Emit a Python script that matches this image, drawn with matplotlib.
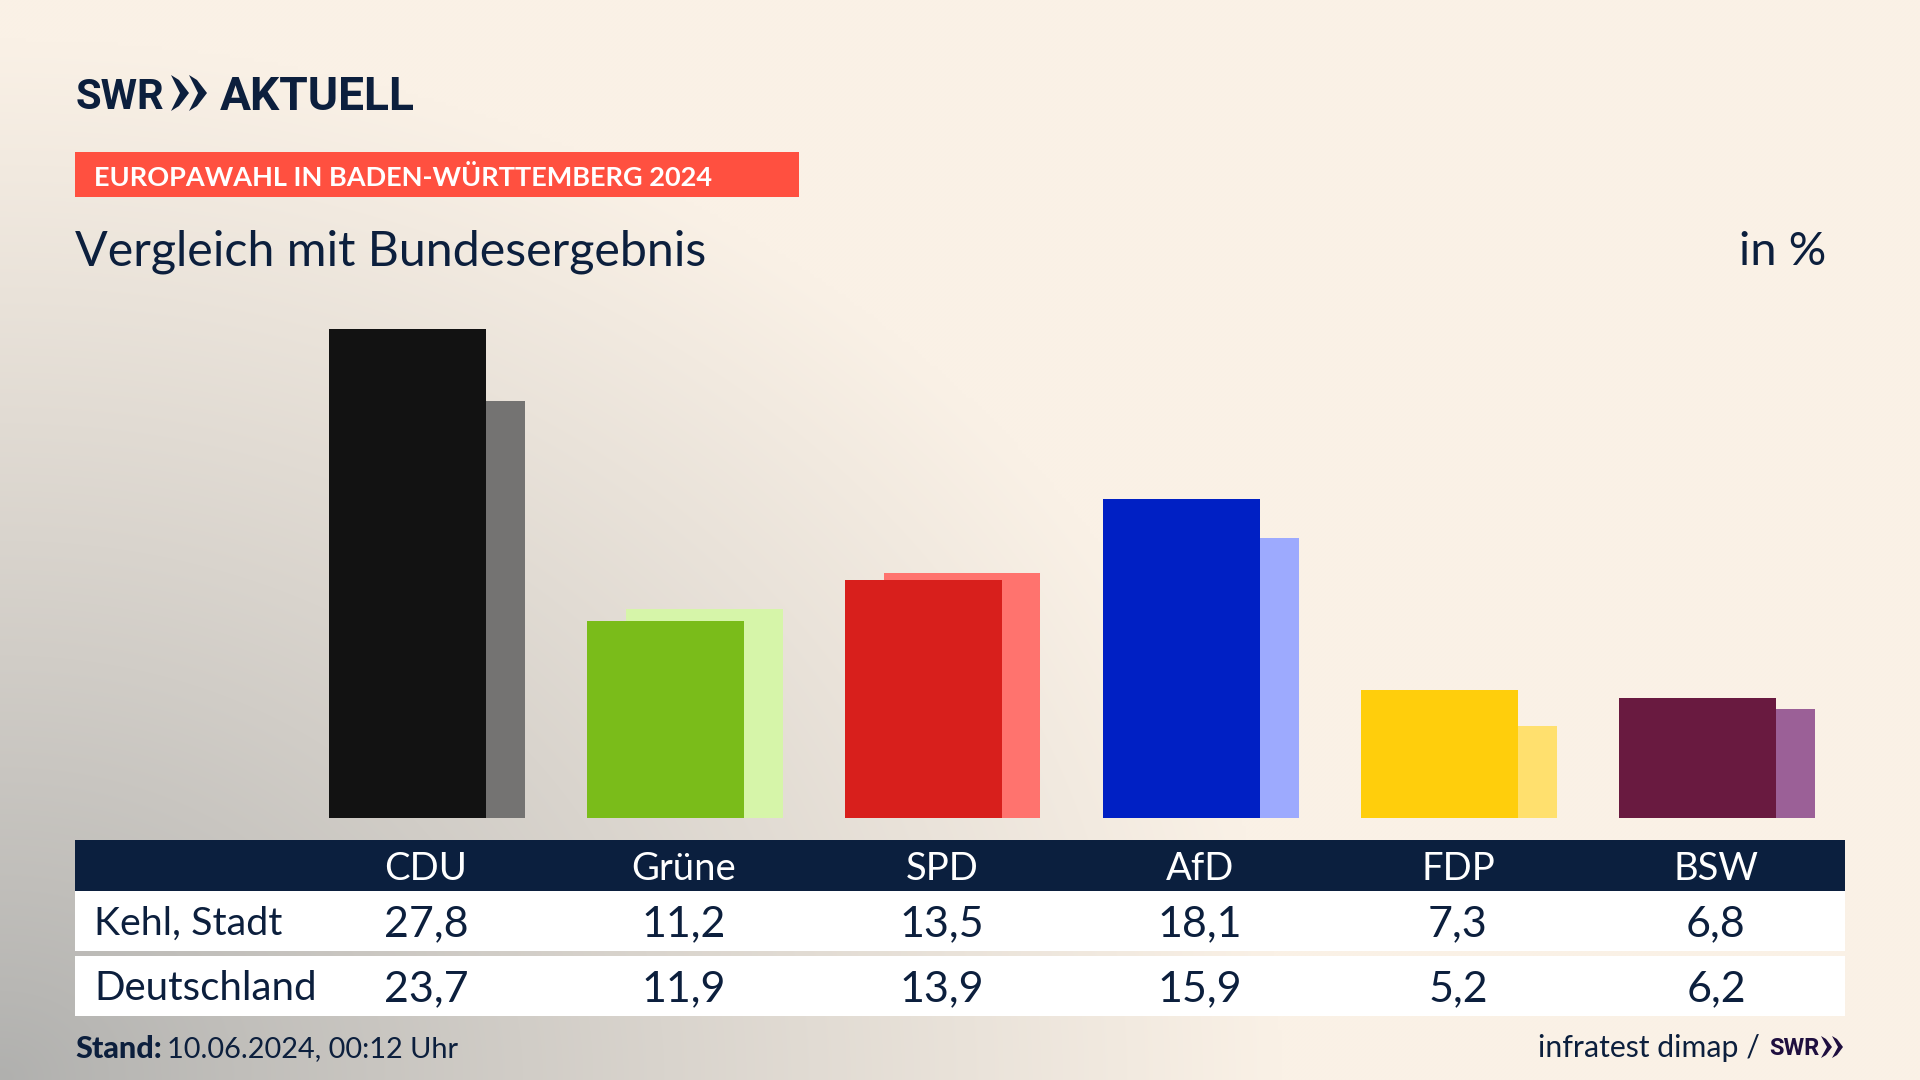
import numpy as np
import matplotlib
matplotlib.use("Agg")
import matplotlib.pyplot as plt
from matplotlib.patches import Rectangle, Polygon
from matplotlib import font_manager as fm

# ---- data ----
parties = ["CDU", "Grüne", "SPD", "AfD", "FDP", "BSW"]
kehl = [27.8, 11.2, 13.5, 18.1, 7.3, 6.8]
deutschland = [23.7, 11.9, 13.9, 15.9, 5.2, 6.2]
row_names = ["Kehl, Stadt", "Deutschland"]
dark_colors = ["#121212", "#7ABC1A", "#D81F1C", "#0020C4", "#FFCE0C", "#691A40"]
light_colors = ["#747372", "#D6F5A9", "#FF736E", "#9DAAFE", "#FFE06E", "#9B6097"]

NAVY = "#0C1F3D"
plt.rcParams["font.family"] = ["Lato", "DejaVu Sans"]
names = {f.name for f in fm.fontManager.ttflist}
LOGO = "Liberation Sans Narrow" if "Liberation Sans Narrow" in names else "Roboto"

W, H = 1920, 1080
fig = plt.figure(figsize=(W / 100, H / 100), dpi=100)

bg = fig.add_axes([0, 0, 1, 1])
bg.set_xlim(0, W)
bg.set_ylim(H, 0)
bg.axis("off")

# background glow from the lower left corner
yy, xx = np.mgrid[0:H:270j, 0:W:480j]
d = np.sqrt((xx / 1280.0) ** 2 + ((H - yy) / 1040.0) ** 2)
t = np.clip(d, 0, 1) ** 0.9
c0 = np.array([176, 176, 174]) / 255
c1 = np.array([250, 241, 230]) / 255
img = c0[None, None, :] * (1 - t[..., None]) + c1[None, None, :] * t[..., None]
bg.imshow(img, extent=(0, W, H, 0), aspect="auto", zorder=0, interpolation="bilinear")
bg.set_xlim(0, W)
bg.set_ylim(H, 0)

# header
bg.text(76, 93, "SWR", fontsize=30, family=LOGO, fontweight="bold", color=NAVY, va="center_baseline", ha="left")
for x0 in (171, 189):
    bg.add_patch(Polygon([(x0, 75), (x0 + 8, 80), (x0 + 18, 93), (x0 + 8, 106), (x0, 111), (x0 + 9, 93)],
                         closed=True, fc=NAVY, ec="none", zorder=3))
bg.text(220, 93, "AKTUELL", fontsize=33.2, family=LOGO, fontweight="bold", color=NAVY, va="center_baseline", ha="left")

bg.add_patch(Rectangle((75, 152), 724, 45, fc="#FF5040", ec="none", zorder=2))
bg.text(94, 175, "EUROPAWAHL IN BADEN-WÜRTTEMBERG 2024", fontsize=19.5, fontweight="bold",
        color="white", va="center_baseline", ha="left", zorder=3)
bg.text(75, 248, "Vergleich mit Bundesergebnis", fontsize=34.8, color=NAVY, va="center_baseline", ha="left")
bg.text(1826, 248, "in %", fontsize=33.8, color=NAVY, va="center_baseline", ha="right")

# bars: value axis
PX_PER_UNIT = 17.6
STEP = 258.0
BASE_PX = 818.0
ax = fig.add_axes([0, (H - BASE_PX) / H, 1, 30 * PX_PER_UNIT / H])
ax.patch.set_alpha(0)
ax.set_xlim(-407.3 / STEP, (W - 407.3) / STEP)
ax.set_ylim(0, 30)
ax.axis("off")
pos = np.arange(len(parties))
ax.bar(pos + 39 / STEP, deutschland, width=156.4 / STEP, color=light_colors, linewidth=0, zorder=2)
ax.bar(pos, kehl, width=156.4 / STEP, color=dark_colors, linewidth=0, zorder=3)

# table
bg.add_patch(Rectangle((75, 840), 1770, 51, fc="#0B1F3E", ec="none", zorder=2))
bg.add_patch(Rectangle((75, 891), 1770, 60, fc="white", ec="none", zorder=2))
bg.add_patch(Rectangle((75, 956), 1770, 60, fc="white", ec="none", zorder=2))
cols = 426 + STEP * pos
for cx, name, a, b in zip(cols, parties, kehl, deutschland):
    bg.text(cx, 865, name, fontsize=27.5, color="white", ha="center", va="center_baseline", zorder=3)
    bg.text(cx, 921, f"{a:.1f}".replace(".", ","), fontsize=31, color=NAVY, ha="center", va="center_baseline", zorder=3)
    bg.text(cx, 986, f"{b:.1f}".replace(".", ","), fontsize=31, color=NAVY, ha="center", va="center_baseline", zorder=3)
bg.text(94, 920, row_names[0], fontsize=28.4, color=NAVY, ha="left", va="center_baseline", zorder=3)
bg.text(94, 985, row_names[1], fontsize=29, color=NAVY, ha="left", va="center_baseline", zorder=3)

# footer
bg.text(75, 1047, "Stand:", fontsize=22, fontweight="black", color=NAVY, ha="left", va="center_baseline")
bg.text(167, 1047, "10.06.2024, 00:12 Uhr", fontsize=20.8, color=NAVY, ha="left", va="center_baseline")
bg.text(1760, 1046, "infratest dimap /", fontsize=21.8, color=NAVY, ha="right", va="center_baseline")
PURPLE = "#1F0F3F"
bg.text(1769, 1046, "SWR", fontsize=17, family=LOGO, fontweight="bold", color=PURPLE, ha="left", va="center_baseline")
for x0 in (1821, 1832):
    bg.add_patch(Polygon([(x0, 1036), (x0 + 5, 1039), (x0 + 11, 1047), (x0 + 5, 1055), (x0, 1058), (x0 + 6, 1047)],
                         closed=True, fc=PURPLE, ec="none", zorder=3))

fig.savefig("out.png", dpi=100)
